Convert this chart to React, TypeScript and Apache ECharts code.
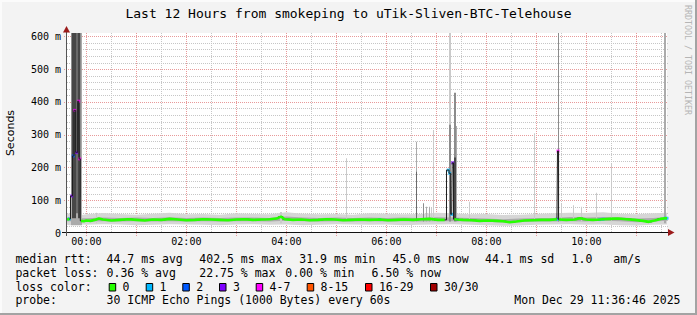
import React, { useEffect, useRef } from 'react';
import * as echarts from 'echarts';

// ---------- data ----------
const TITLE = 'Last 12 Hours from smokeping to uTik-Sliven-BTC-Telehouse';
const WATERMARK = 'RRDTOOL / TOBI OETIKER';
const Y_NAME = 'Seconds';
// time axis in minutes relative to 00:00 (window 23:36:46 -> 11:36:46)
const X_MIN = -23.2333;
const X_MAX = 696.7667;
const Y_MAX = 610;
const xLabelValues = [0, 120, 240, 360, 480, 600];
const yLabelValues = [0, 100, 200, 300, 400, 500, 600];

// median rtt: [minute, ms, loss class]
const medianPoints: [number, number, number][] = [
  [-23.2, 41, 0], [-21.6, 42, 0], [-20.5, 43, 1],
  [-17.6, 113, 3], [-15.7, 235, 2], [-14.0, 374, 4], [-11.6, 246, 3], [-9.2, 402, 4], [-8.0, 226, 4],
  [-6.5, 37, 0], [-3, 36, 0], [0, 38, 0], [5, 37, 0], [10, 40, 0], [15, 44, 0], [20, 41, 0],
  [30, 38, 0], [40, 40, 0], [50, 42, 0], [60, 40, 0], [70, 38, 0], [80, 41, 0], [90, 40, 0],
  [100, 43, 0], [110, 41, 0], [120, 39, 0], [130, 40, 0], [140, 42, 0], [150, 41, 0], [160, 40, 0],
  [170, 39, 0], [180, 41, 0], [190, 42, 0], [200, 40, 0], [210, 41, 0], [220, 42, 0], [228, 44, 0],
  [233.5, 50, 0], [238, 42, 0], [248, 40, 0], [258, 41, 0], [268, 39, 0], [278, 40, 0], [288, 42, 0],
  [298, 41, 0], [308, 39, 0], [318, 40, 0], [328, 41, 0], [340, 40, 0], [352, 41, 1], [362, 39, 0],
  [372, 40, 0], [382, 41, 0], [392, 40, 0], [402, 42, 0], [412, 43, 0], [422, 40, 0], [430, 40, 0],
  [434.3, 192, 1], [436.0, 182, 1], [438.4, 57, 1], [439.6, 214, 3], [441.5, 42, 0], [445, 41, 3],
  [452, 40, 0], [462, 39, 0], [472, 37, 0], [482, 38, 0], [492, 37, 0], [500, 36, 0], [508, 33, 0],
  [516, 35, 0], [526, 38, 0], [536, 39, 0], [546, 40, 0], [556, 40, 0], [564.7, 42, 1], [566, 250, 4],
  [567.3, 41, 0], [576, 40, 0], [586, 41, 0], [592, 45, 0], [600, 41, 0], [608, 40, 0], [616, 41, 1],
  [620, 42, 1], [628, 43, 0], [638, 44, 0], [648, 42, 0], [658, 40, 0], [668, 37, 0], [675, 34, 0],
  [682, 38, 0], [689, 43, 0], [694.5, 45, 1], [696.8, 45, 1],
];

// baseline smoke (ping spread)
const smokeTimes = [
  -23.2, -20, -6, 0, 20, 40, 60, 80, 100, 120,
  140, 160, 180, 200, 220, 240, 260, 280, 300, 320,
  340, 360, 380, 400, 420, 440, 460, 480, 500, 520,
  540, 560, 580, 600, 620, 640, 660, 680, 696.8,
];
const smokeLow = [
  25, 24, 26, 25, 27, 26, 24, 25, 27, 26,
  25, 24, 26, 27, 25, 26, 24, 25, 27, 26,
  25, 26, 24, 25, 26, 27, 25, 24, 22, 23,
  25, 26, 27, 25, 26, 24, 23, 25, 26,
];
const smokeHigh = [
  58, 60, 55, 57, 61, 58, 56, 59, 62, 57,
  58, 56, 60, 58, 57, 63, 59, 57, 58, 56,
  60, 59, 57, 58, 62, 60, 57, 58, 55, 56,
  58, 60, 62, 61, 63, 59, 57, 60, 62,
];
const coreLow = [
  36, 36, 35, 35, 36, 35, 36, 35, 36, 35,
  36, 35, 36, 36, 35, 37, 36, 35, 36, 35,
  36, 35, 36, 35, 36, 36, 35, 34, 32, 34,
  35, 35, 36, 35, 37, 36, 33, 35, 37,
];
const coreHigh = [
  47, 47, 45, 45, 47, 46, 47, 46, 48, 46,
  47, 46, 47, 47, 46, 50, 47, 46, 47, 46,
  47, 46, 47, 46, 48, 47, 46, 44, 42, 44,
  46, 46, 49, 47, 49, 48, 44, 46, 49,
];

// smoke spikes: [start minute, end minute, low ms, high ms, shade index]
const smokeSpikes: [number, number, number, number, number][] = [
  [-18.8, -5.6, 24, 610, 2],
  [-18.0, -6.2, 110, 610, 3],
  [-16.9, -12.5, 45, 610, 5],
  [-12.5, -10.1, 60, 610, 4],
  [-10.1, -7.4, 45, 610, 5],
  [11.8, 13.0, 30, 62, 1],
  [232.4, 234.6, 30, 64, 1],
  [312.1, 313.3, 35, 228, 1],
  [395.8, 397.0, 35, 278, 2],
  [395.8, 397.0, 38, 187, 4],
  [403.7, 405.5, 35, 91, 3],
  [407.7, 409.0, 35, 80, 2],
  [410.9, 412.1, 35, 80, 2],
  [413.7, 414.9, 35, 76, 1],
  [415.7, 416.9, 35, 314, 1],
  [434.6, 437.6, 35, 610, 1],
  [434.6, 437.6, 35, 330, 3],
  [441.4, 443.0, 35, 428, 3],
  [441.4, 443.0, 38, 230, 5],
  [443.6, 445.0, 35, 326, 2],
  [459.7, 460.9, 35, 95, 1],
  [537.7, 538.9, 35, 304, 1],
  [565.8, 567.4, 35, 610, 3],
  [569.0, 570.2, 35, 91, 1],
  [584.5, 585.7, 35, 85, 1],
  [594.1, 595.3, 35, 80, 1],
  [611.8, 613.0, 35, 123, 1],
  [629.8, 631.0, 35, 212, 1],
  [693.4, 695.8, 30, 610, 2],
];

const lossLabels = ['0', '1', '2', '3', '4-7', '8-15', '16-29', '30/30'];
const lossColors = ['#26ff00', '#00b8ff', '#0059ff', '#7e00ff', '#ff00ff', '#ff5500', '#ff0000', '#a10000'];

const rttLabel = 'median rtt:';
const rttStats = ['44.7 ms avg', '402.5 ms max', '31.9 ms min', '45.0 ms now', '44.1 ms sd', '1.0', 'am/s'];
const lossLabel = 'packet loss:';
const lossStats = ['0.36 % avg', '22.75 % max', '0.00 % min', '6.50 % now'];
const colorLabel = 'loss color:';
const probeLabel = 'probe:';
const probeText = '30 ICMP Echo Pings (1000 Bytes) every 60s';
const dateText = 'Mon Dec 29 11:36:46 2025';

// ---------- layout / style ----------
const W = 697;
const H = 315;
const GX = 67;
const GY = 33;
const GW = 600;
const GH = 200;
const MONO = '"DejaVu Sans Mono", monospace';
const BG = '#f3f3f3';
const MAJOR = '#e89a9a';
const MINOR = '#c6c6c6';
const ARROW = '#9b1b1b';
const OUTER_SMOKE = '#d6d6d6';
const CORE_SMOKE = '#acacac';
const shades = ['#e2e2e2', '#cacaca', '#ababab', '#8c8c8c', '#6a6a6a', '#474747', '#2a2a2a'];
const rttX = [106.6, 199.3, 299.3, 392.6, 485, 571.6, 613.3];
const lossX = [106.6, 199.3, 285.3, 371.6];
const swatchX = [108.7, 145.7, 182.3, 219, 255.7, 306.7, 365, 430];
const LEG_FONT = '11.5px "DejaVu Sans Mono"';
const LINE_Y = [258.7, 272.7, 286.7, 300];

function txt(text: string, x: number, y: number, opts: any = {}) {
  return {
    type: 'text',
    x,
    y,
    rotation: opts.rotation || 0,
    z: 100,
    silent: true,
    style: {
      text,
      font: opts.font || LEG_FONT,
      fill: opts.fill || '#000',
      align: opts.align || 'left',
      verticalAlign: 'middle',
      textAlign: opts.align || 'left',
      textVerticalAlign: 'middle',
    },
  };
}

function buildOption() {
  const vGrid: number[][] = [];
  for (let t = 0; t <= 690; t += 30) vGrid.push([t, 0, t % 60 === 0 ? 1 : 0]);
  const hGrid: number[][] = [];
  for (let v = 20; v <= 600; v += 20) hGrid.push([X_MIN, v, v % 100 === 0 ? 1 : 0]);

  // smoke band table: [t, outer low, outer high, core low, core high]
  const smokeTable = smokeTimes.map((t, i) => [t, smokeLow[i], smokeHigh[i], coreLow[i], coreHigh[i]]);

  const medianAll = medianPoints.map((p) => [p[0], p[1]]);
  const greenLine = medianPoints.map((p) => [p[0], p[1] < 80 ? p[1] : null]);
  const lossDots = medianPoints
    .filter((p) => p[2] > 0)
    .map((p) => ({ value: [p[0], p[1]], itemStyle: { color: lossColors[p[2]] } }));

  const graphic: any[] = [];
  // frame
  graphic.push({ type: 'rect', z: 100, silent: true, shape: { x: 0, y: 0, width: W, height: 2 }, style: { fill: '#fbfbfb' } });
  graphic.push({ type: 'rect', z: 100, silent: true, shape: { x: 0, y: 0, width: 2, height: H }, style: { fill: '#fbfbfb' } });
  graphic.push({ type: 'rect', z: 100, silent: true, shape: { x: 0, y: H - 2, width: W, height: 2 }, style: { fill: '#a3a3a3' } });
  graphic.push({ type: 'rect', z: 100, silent: true, shape: { x: W - 2, y: 0, width: 2, height: H }, style: { fill: '#a3a3a3' } });
  // axes
  const axY = GY + GH - 0.5;
  const axX = GX - 0.5;
  graphic.push({ type: 'line', z: 100, silent: true, shape: { x1: GX - 5, y1: axY, x2: GX + GW + 1, y2: axY }, style: { stroke: '#111', lineWidth: 1 } });
  graphic.push({ type: 'line', z: 100, silent: true, shape: { x1: axX, y1: GY + GH + 3, x2: axX, y2: GY - 1 }, style: { stroke: '#555', lineWidth: 1 } });
  graphic.push({ type: 'polygon', z: 100, silent: true, shape: { points: [[GX + GW + 1, axY - 3.5], [GX + GW + 7.5, axY], [GX + GW + 1, axY + 3.5]] }, style: { fill: ARROW } });
  graphic.push({ type: 'polygon', z: 100, silent: true, shape: { points: [[axX - 3.5, GY - 0.5], [axX, GY - 7], [axX + 3.5, GY - 0.5]] }, style: { fill: ARROW } });
  // titles
  graphic.push(txt(TITLE, W / 2, 13.8, { font: '13px "DejaVu Sans Mono"', align: 'center' }));
  graphic.push(txt(WATERMARK, 688, 60, { font: '8.3px "DejaVu Sans Mono"', align: 'center', fill: '#b5b5b5', rotation: -Math.PI / 2 }));
  graphic.push(txt(Y_NAME, 10.5, 133, { font: '11px "DejaVu Sans"', align: 'center', rotation: Math.PI / 2 }));
  // legend line 1
  graphic.push(txt(rttLabel, 15.4, LINE_Y[0]));
  rttStats.forEach((s, i) => graphic.push(txt(s, rttX[i], LINE_Y[0])));
  // legend line 2
  graphic.push(txt(lossLabel, 15.4, LINE_Y[1]));
  lossStats.forEach((s, i) => graphic.push(txt(s, lossX[i], LINE_Y[1])));
  // legend line 3
  graphic.push(txt(colorLabel, 15.4, LINE_Y[2]));
  lossLabels.forEach((s, i) => {
    graphic.push({
      type: 'rect', z: 100, silent: true,
      shape: { x: swatchX[i] + 0.5, y: 283.5, width: 6.5, height: 7.5 },
      style: { fill: lossColors[i], stroke: '#000', lineWidth: 1 },
    });
    graphic.push(txt(s, swatchX[i] + 13.9, LINE_Y[2]));
  });
  // legend line 4
  graphic.push(txt(probeLabel, 15.4, LINE_Y[3]));
  graphic.push(txt(probeText, 106.6, LINE_Y[3]));
  graphic.push(txt(dateText, 680.5, LINE_Y[3], { align: 'right' }));

  const hidden = { show: false };
  const fmtTime = (v: number) => `${String(Math.floor(v / 60)).padStart(2, '0')}:00`;

  return {
    animation: false,
    backgroundColor: BG,
    grid: { left: GX, top: GY, width: GW, height: GH, show: true, backgroundColor: '#ffffff', borderWidth: 0 },
    tooltip: { show: false },
    xAxis: {
      type: 'value', min: X_MIN, max: X_MAX,
      axisLine: hidden, axisTick: hidden, splitLine: hidden,
      axisLabel: { customValues: xLabelValues, formatter: fmtTime, fontFamily: MONO, fontSize: 10, color: '#000', margin: 3 },
    },
    yAxis: {
      type: 'value', min: 0, max: Y_MAX,
      axisLine: hidden, axisTick: hidden, splitLine: hidden,
      axisLabel: {
        customValues: yLabelValues,
        formatter: (v: number) => (v === 0 ? '0' : `${v} m`),
        fontFamily: MONO, fontSize: 10, color: '#000', margin: 6,
      },
    },
    series: [
      {
        type: 'custom', name: 'vgrid', silent: true, clip: false,
        encode: { x: 0, y: 1 }, data: vGrid,
        renderItem: (params: any, api: any) => {
          const cs = params.coordSys;
          const major = api.value(2) === 1;
          const x = Math.round(api.coord([api.value(0), 0])[0]) + 0.5;
          return {
            type: 'line', silent: true,
            shape: { x1: x, y1: cs.y, x2: x, y2: cs.y + cs.height + (major ? 3 : 0) },
            style: { stroke: major ? MAJOR : MINOR, lineWidth: 1, lineDash: [1, 1] },
          };
        },
      },
      {
        type: 'custom', name: 'hgrid', silent: true, clip: false,
        encode: { x: 0, y: 1 }, data: hGrid,
        renderItem: (params: any, api: any) => {
          const cs = params.coordSys;
          const major = api.value(2) === 1;
          const y = Math.round(api.coord([0, api.value(1)])[1]) + 0.5;
          return {
            type: 'line', silent: true,
            shape: { x1: cs.x - (major ? 3 : 0), y1: y, x2: cs.x + cs.width + 1, y2: y },
            style: { stroke: major ? MAJOR : MINOR, lineWidth: 1, lineDash: [1, 1] },
          };
        },
      },
      {
        type: 'custom', name: 'smoke', silent: true, clip: true,
        encode: { x: 0, y: [1, 2] }, data: smokeTable,
        renderItem: (params: any, api: any) => {
          if (params.dataIndexInside !== 0) return null;
          const n = params.dataInsideLength;
          const band = (loDim: number, hiDim: number) => {
            const top: number[][] = [];
            const bottom: number[][] = [];
            for (let j = 0; j < n; j++) {
              const t = api.value(0, j);
              top.push(api.coord([t, api.value(hiDim, j)]));
              bottom.push(api.coord([t, api.value(loDim, j)]));
            }
            return top.concat(bottom.reverse());
          };
          return {
            type: 'group',
            children: [
              { type: 'polygon', shape: { points: band(1, 2) }, style: { fill: OUTER_SMOKE } },
              { type: 'polygon', shape: { points: band(3, 4) }, style: { fill: CORE_SMOKE } },
            ],
          };
        },
      },
      {
        type: 'custom', name: 'spikes', silent: true, clip: true,
        encode: { x: [0, 1], y: [2, 3] }, data: smokeSpikes,
        renderItem: (params: any, api: any) => {
          const p0 = api.coord([api.value(0), api.value(3)]);
          const p1 = api.coord([api.value(1), api.value(2)]);
          const x0 = Math.round(p0[0]);
          const x1 = Math.max(x0 + 1, Math.round(p1[0]));
          return {
            type: 'rect', silent: true,
            shape: { x: x0, y: p0[1], width: x1 - x0, height: p1[1] - p0[1] },
            style: { fill: shades[api.value(4)] },
          };
        },
      },
      {
        type: 'line', name: 'medianDark', data: medianAll, step: 'middle', showSymbol: false, silent: true,
        lineStyle: { color: '#1e1e1e', width: 1 },
      },
      {
        type: 'line', name: 'median', data: greenLine, showSymbol: false, silent: true, connectNulls: false,
        lineStyle: { color: lossColors[0], width: 2.6 },
      },
      {
        type: 'scatter', name: 'loss', data: lossDots, symbol: 'rect', symbolSize: [3, 3], silent: true,
      },
    ],
    graphic,
  };
}

export default function App() {
  const ref = useRef<HTMLDivElement>(null);
  useEffect(() => {
    const chart = echarts.init(ref.current!, null, { renderer: 'svg' });
    chart.setOption(buildOption() as any);
    return () => chart.dispose();
  }, []);
  return <div ref={ref} style={{ position: 'absolute', left: 0, top: 0, width: W, height: H }} />;
}
